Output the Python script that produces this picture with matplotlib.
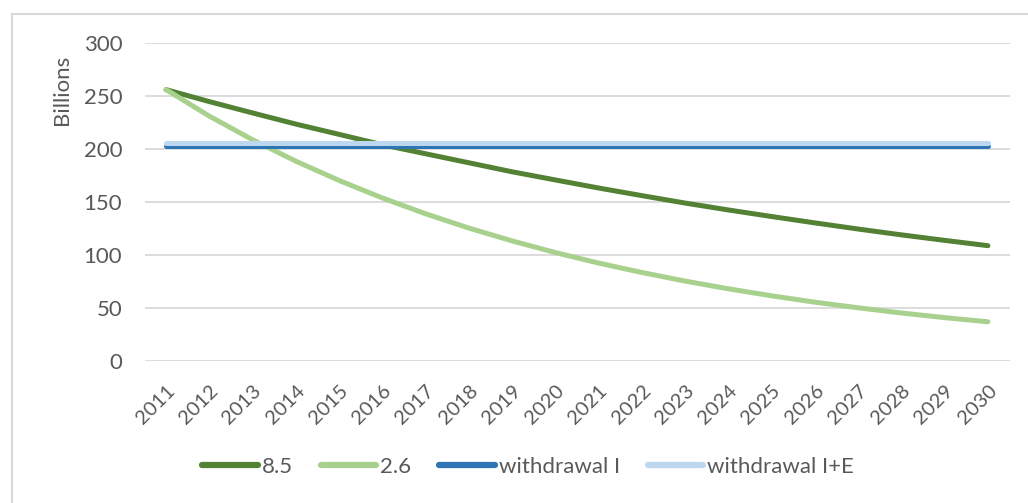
import matplotlib.pyplot as plt
from matplotlib.patches import Rectangle

# Datos por año (miles de millones)
anios = [str(a) for a in range(2011, 2031)]
serie_85 = [256, 244.7, 234, 223.5, 213.8, 204, 195.5, 187, 178.5, 170.8,
            163.2, 156, 149, 142.5, 136.3, 130.3, 124.5, 119, 113.8, 108.8]
serie_26 = [256, 231, 208.7, 188.5, 170.3, 153.8, 138.9, 125.4, 113.3, 102.3,
            92.4, 83.5, 75.4, 68.1, 61.5, 55.5, 50.2, 45.3, 40.9, 37]
retiro_i = [203] * len(anios)
retiro_ie = [206] * len(anios)

plt.rcParams['font.family'] = ['Lato', 'DejaVu Sans']
gris = '#595959'

fig = plt.figure(figsize=(10.28, 5.03), dpi=100)
W, H = 1028, 503
ax = fig.add_axes([144.5 / W, 1 - 361 / H, (1009.5 - 144.5) / W, (361 - 43) / H])

x = range(len(anios))
estilo = dict(lw=3.6, solid_capstyle='round', solid_joinstyle='round')
ax.plot(x, serie_85, color='#548235', label='8.5', **estilo)
ax.plot(x, serie_26, color='#a9d18e', label='2.6', **estilo)
ax.plot(x, retiro_i, color='#2e75b6', label='withdrawal I', **estilo)
ax.plot(x, retiro_ie, color='#bdd7ee', label='withdrawal I+E', **estilo)

ax.set_xlim(-0.5, len(anios) - 0.5)
ax.set_ylim(0, 300)
ax.set_yticks(range(0, 301, 50))
ax.grid(axis='y', color='#d9d9d9', lw=1.3)
ax.set_axisbelow(True)
for s in ax.spines.values():
    s.set_visible(False)
ax.tick_params(length=0, labelsize=16, colors=gris)
ax.tick_params(axis='y', pad=16)
ax.set_xticks(list(x))
ax.set_xticklabels(anios, rotation=45, ha='right', va='top', rotation_mode='anchor')
ax.tick_params(axis='x', pad=15)
for lbl in ax.get_xticklabels():
    lbl.set_fontsize(14.5)

# Título del eje Y arriba, como en Excel
fig.text(62 / W, 1 - 90 / H, 'Billions', rotation=90, fontsize=16, color=gris,
         ha='center', va='center')

leg = fig.legend(loc='center', bbox_to_anchor=(528 / W, 1 - 467 / H), ncol=4, frameon=False,
                 fontsize=16, handlelength=2.5, handletextpad=0.18, columnspacing=1.25)
for t in leg.get_texts():
    t.set_color(gris)
for h in leg.get_lines():
    h.set_linewidth(4.5)

# Borde del área del gráfico
fig.patches.append(Rectangle((12 / W, -0.1), 1.2, 1 - 14 / H + 0.1, transform=fig.transFigure,
                             fill=False, edgecolor='#d9d9d9', lw=1.5))

fig.savefig('out.png', dpi=100)
